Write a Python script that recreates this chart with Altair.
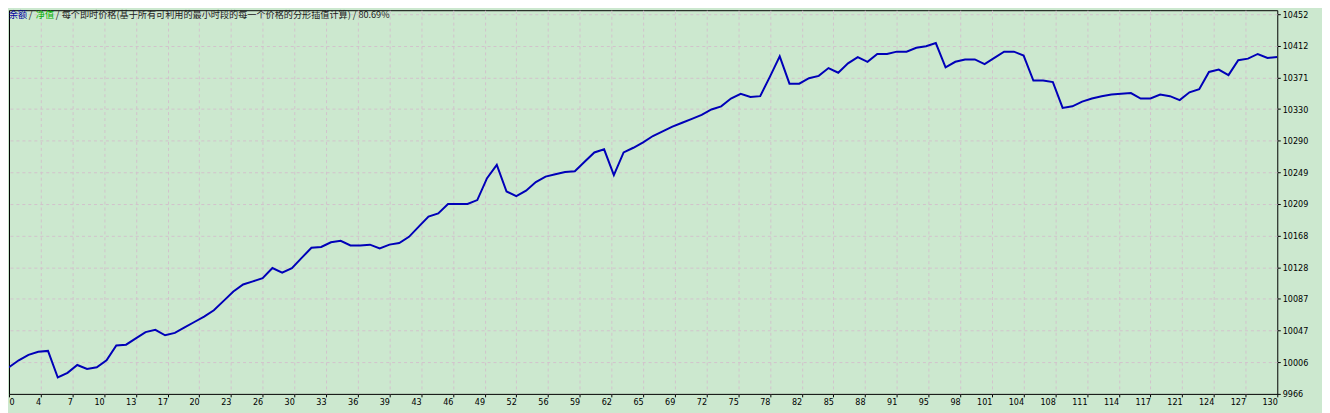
import altair as alt
import pandas as pd

# ---- data ----
balance = [
    10000, 10009, 10016, 10020, 10021, 9987, 9993, 10003, 9998, 10000,
    10009, 10028, 10029, 10037, 10045, 10048, 10041, 10044, 10051, 10058,
    10065, 10073, 10085, 10097, 10106, 10110, 10114, 10127, 10121, 10127,
    10140, 10153, 10154, 10160, 10162, 10156, 10156, 10157, 10152, 10157,
    10159, 10167, 10180, 10193, 10197, 10209, 10209, 10209, 10214, 10242,
    10259, 10225, 10219, 10226, 10237, 10244, 10247, 10250, 10251, 10263,
    10275, 10279, 10246, 10275, 10281, 10288, 10296, 10302, 10308, 10313,
    10318, 10323, 10330, 10334, 10344, 10350, 10346, 10347, 10372, 10398,
    10363, 10363, 10370, 10373, 10383, 10377, 10389, 10397, 10391, 10401,
    10401, 10404, 10404, 10409, 10411, 10415, 10384, 10391, 10394, 10394,
    10388, 10396, 10404, 10404, 10399, 10367, 10367, 10365, 10332, 10334,
    10340, 10344, 10347, 10349, 10350, 10351, 10344, 10344, 10349, 10347,
    10342, 10352, 10356, 10378, 10381, 10374, 10393, 10395, 10401, 10396,
    10397,
]
trade_index = list(range(len(balance)))

x_tick_labels = [0, 4, 7, 10, 13, 17, 20, 23, 26, 30, 33, 36, 39, 43, 46, 49,
                 52, 56, 59, 62, 65, 69, 72, 75, 78, 82, 85, 88, 91, 95, 98,
                 101, 104, 108, 111, 114, 117, 121, 124, 127, 130]
y_tick_labels = [9966, 10006, 10047, 10087, 10128, 10168, 10209, 10249,
                 10290, 10330, 10371, 10412, 10452]

title_parts = ["余额", "/", "净值", "/",
               "每个即时价格(基于所有可利用的最小时段的每一个价格的分形插值计算) / 80.69%"]

# ---- scales / ticks ----
x_step = 130 / (len(x_tick_labels) - 1)
y_step = (y_tick_labels[-1] - y_tick_labels[0]) / (len(y_tick_labels) - 1)
x_tick_values = [k * x_step for k in range(len(x_tick_labels))]
y_tick_values = [y_tick_labels[0] + k * y_step for k in range(len(y_tick_labels))]

BG = "#CCE8CF"
GRID = "#D2C3CC"
FONT = "DejaVu Sans Condensed, DejaVu Sans, sans-serif"
CJK = "Noto Sans CJK SC"

df = pd.DataFrame({"i": trade_index, "v": balance})

x_axis = alt.Axis(
    values=x_tick_values,
    labelExpr=f"{x_tick_labels}[round(datum.value / {x_step})]",
    orient="bottom", domain=False, ticks=True, tickSize=3, tickColor="#000000",
    labelFont=FONT, labelFontSize=9, labelColor="#000000", labelPadding=1,
    labelAlign={"condition": {"test": "datum.value == 0", "value": "left"}, "value": "right"},
    labelOverlap=False, labelBound=False, labelFlush=False,
    grid=True, gridColor=GRID, gridDash=[3, 3], gridWidth=1,
    gridOpacity={"condition": {"test": "datum.value <= 0 || datum.value >= 130", "value": 0}, "value": 1},
    title=None,
)
y_axis = alt.Axis(
    values=y_tick_values,
    labelExpr=f"{y_tick_labels}[round((datum.value - {y_tick_labels[0]}) / {y_step})]",
    orient="right", domain=False, ticks=True, tickSize=3, tickColor="#000000",
    labelFont=FONT, labelFontSize=9, labelColor="#000000", labelPadding=2,
    labelAlign="left", labelBaseline="middle",
    labelOverlap=False, labelBound=False, labelFlush=False,
    grid=True, gridColor=GRID, gridDash=[3, 3], gridWidth=1,
    gridOpacity={"condition": {"test": f"datum.value <= {y_tick_labels[0]}", "value": 0}, "value": 1},
    title=None,
)

line = alt.Chart(df).mark_line(color="#0000B8", strokeWidth=2, clip=True).encode(
    x=alt.X("i:Q", scale=alt.Scale(domain=[0, 130], nice=False, zero=False), axis=x_axis),
    y=alt.Y("v:Q", scale=alt.Scale(domain=[9966, 10457], nice=False, zero=False), axis=y_axis),
)

title_colors = ["#0000A0", "#202020", "#00B000", "#202020", "#202020"]
title_x = [0, 20, 27, 47, 53]
texts = []
for part, col, xp in zip(title_parts, title_colors, title_x):
    texts.append(
        alt.Chart(pd.DataFrame({"t": [part]})).mark_text(
            align="left", baseline="middle", font=CJK, fontSize=9.2, color=col
        ).encode(x=alt.value(xp), y=alt.value(4.5), text="t:N")
    )

chart = alt.layer(line, *texts).properties(
    width=1276, height=386,
    background=BG,
    padding={"left": 1, "top": 1, "right": 45, "bottom": 18},
    autosize=alt.AutoSizeParams(type="none"),
).configure_view(fill=BG, stroke="#000000", strokeWidth=1)

chart.save("out.html", embed_options={"renderer": "svg", "actions": False})
